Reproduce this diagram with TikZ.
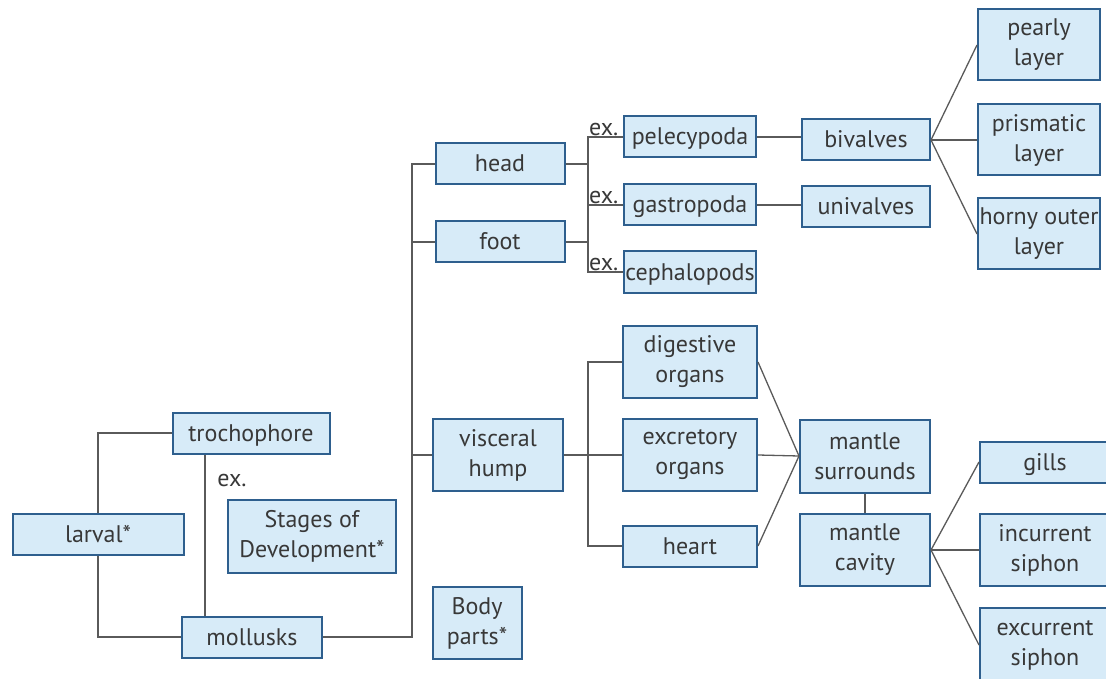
\documentclass[tikz,border=0pt]{standalone}
\usepackage{fontspec}
\setmainfont{PT Sans}
\usetikzlibrary{positioning, calc}

\definecolor{boxfill}{HTML}{D7EBF8}
\definecolor{boxline}{HTML}{2E5F8E}
\definecolor{linkgray}{HTML}{5A5A5A}
\definecolor{textgray}{HTML}{383838}

\begin{document}
\begin{tikzpicture}[x=1pt, y=-1pt,
                font=\fontsize{24}{30}\selectfont, text=textgray,
                concept/.style={draw=boxline, line width=2pt, fill=boxfill,
                                align=center, inner sep=1pt},
                single/.style={concept, minimum height=41pt, text height=20pt, text depth=4pt},
                double/.style={concept, minimum height=72pt},
                link/.style={draw=linkgray, line width=1.3pt},
                exlabel/.style={font=\fontsize{24}{26}\selectfont, inner sep=1pt}]

                \useasboundingbox (0,0) rectangle (1106,679);
                \clip (0,0) rectangle (1106,679);

                % Stages of development
                \node[single, minimum width=171pt] (larval) at (98,534) {larval*};
                \node[single, minimum width=157pt] (troch) at (251,433) {trochophore};
                \node[double, minimum width=168pt, minimum height=73pt] (stages) at (312,536) {Stages of\\Development*};
                \node[single, minimum width=140pt] (moll) at (252,637) {mollusks};
                \node[double, minimum width=89pt] (body) at (477,623) {Body\\parts*};

                % Body parts
                \node[single, minimum width=129pt] (head) at (500,164) {head};
                \node[single, minimum width=129pt] (foot) at (500,242) {foot};
                \node[double, minimum width=130pt] (hump) at (498,455) {visceral\\hump};

                % Classes and shells
                \node[single, minimum width=132pt] (pele) at (690,137) {pelecypoda};
                \node[single, minimum width=132pt] (gastro) at (690,205) {gastropoda};
                \node[single, minimum width=132pt] (ceph) at (690,272) {cephalopods};
                \node[single, minimum width=128pt] (biv) at (866,140) {bivalves};
                \node[single, minimum width=128pt] (univ) at (866,207) {univalves};
                \node[double, minimum width=122pt, minimum height=71pt] (pearly) at (1039,45) {pearly\\layer};
                \node[double, minimum width=122pt, minimum height=71pt] (prism) at (1039,140) {prismatic\\layer};
                \node[double, minimum width=122pt, minimum height=71pt, inner xsep=0pt] (horny) at (1039,234) {horny outer\\layer};

                % Organs and mantle
                \node[double, minimum width=134pt] (digest) at (690,362) {digestive\\organs};
                \node[double, minimum width=134pt] (excr) at (690,455) {excretory\\organs};
                \node[single, minimum width=134pt] (heart) at (690,546) {heart};
                \node[double, minimum width=130pt, minimum height=73pt] (msurr) at (865,456) {mantle\\surrounds};
                \node[double, minimum width=130pt] (mcav) at (865,550) {mantle\\cavity};
                \node[single, minimum width=130pt] (gills) at (1045,462) {gills};
                \node[double, minimum width=130pt] (incur) at (1045,550) {incurrent\\siphon};
                \node[double, minimum width=130pt, minimum height=74pt] (excur) at (1045,645) {excurrent\\siphon};

                % Trunk lines
                \coordinate (exline) at (205,0);
                \coordinate (spine) at (412,0);
                \coordinate (exfork) at (588,0);

                % Larval stage links
                \draw[link] (larval.north) |- (troch.west);
                \draw[link] (larval.south) |- (moll.west);
                \draw[link] (troch.south -| exline) -- (moll.north -| exline);
                \node[exlabel] (ex1) at (232,480) {ex.};

                % Mollusks to body parts
                \draw[link] (moll.east) -| (spine |- head.west) -- (head.west);
                \draw[link] (spine |- foot.west) -- (foot.west);
                \draw[link] (spine |- hump.west) -- (hump.west);

                % Head and foot to classes
                \draw[link] (head.east) -- (exfork |- head.east);
                \draw[link] (foot.east) -- (exfork |- foot.east);
                \draw[link] (pele.west) -| (exfork |- ceph.west) -- (ceph.west);
                \draw[link] (exfork |- gastro.west) -- (gastro.west);
                \node[exlabel, anchor=south west] (ex2) at (exfork |- pele.west) {ex.};
                \node[exlabel, anchor=south west] (ex3) at (exfork |- gastro.west) {ex.};
                \node[exlabel, anchor=south west] (ex4) at (exfork |- ceph.west) {ex.};

                % Shells
                \draw[link] (pele.east) -- (pele.east -| biv.west);
                \draw[link] (gastro.east) -- (gastro.east -| univ.west);
                \foreach \layer in {pearly, prism, horny}
                    \draw[link] (biv.east) -- (\layer.west);

                % Visceral hump to organs
                \draw[link] (hump.east) -- (excr.west);
                \draw[link] (digest.west) -| (exfork |- heart.west) -- (heart.west);
                \foreach \organ in {digest, excr, heart}
                    \draw[link] (\organ.east) -- (msurr.west);
                \draw[link] (msurr.south) -- (mcav.north);
                \foreach \part in {gills, incur, excur}
                    \draw[link] (mcav.east) -- (\part.west);
            \end{tikzpicture}
\end{document}
